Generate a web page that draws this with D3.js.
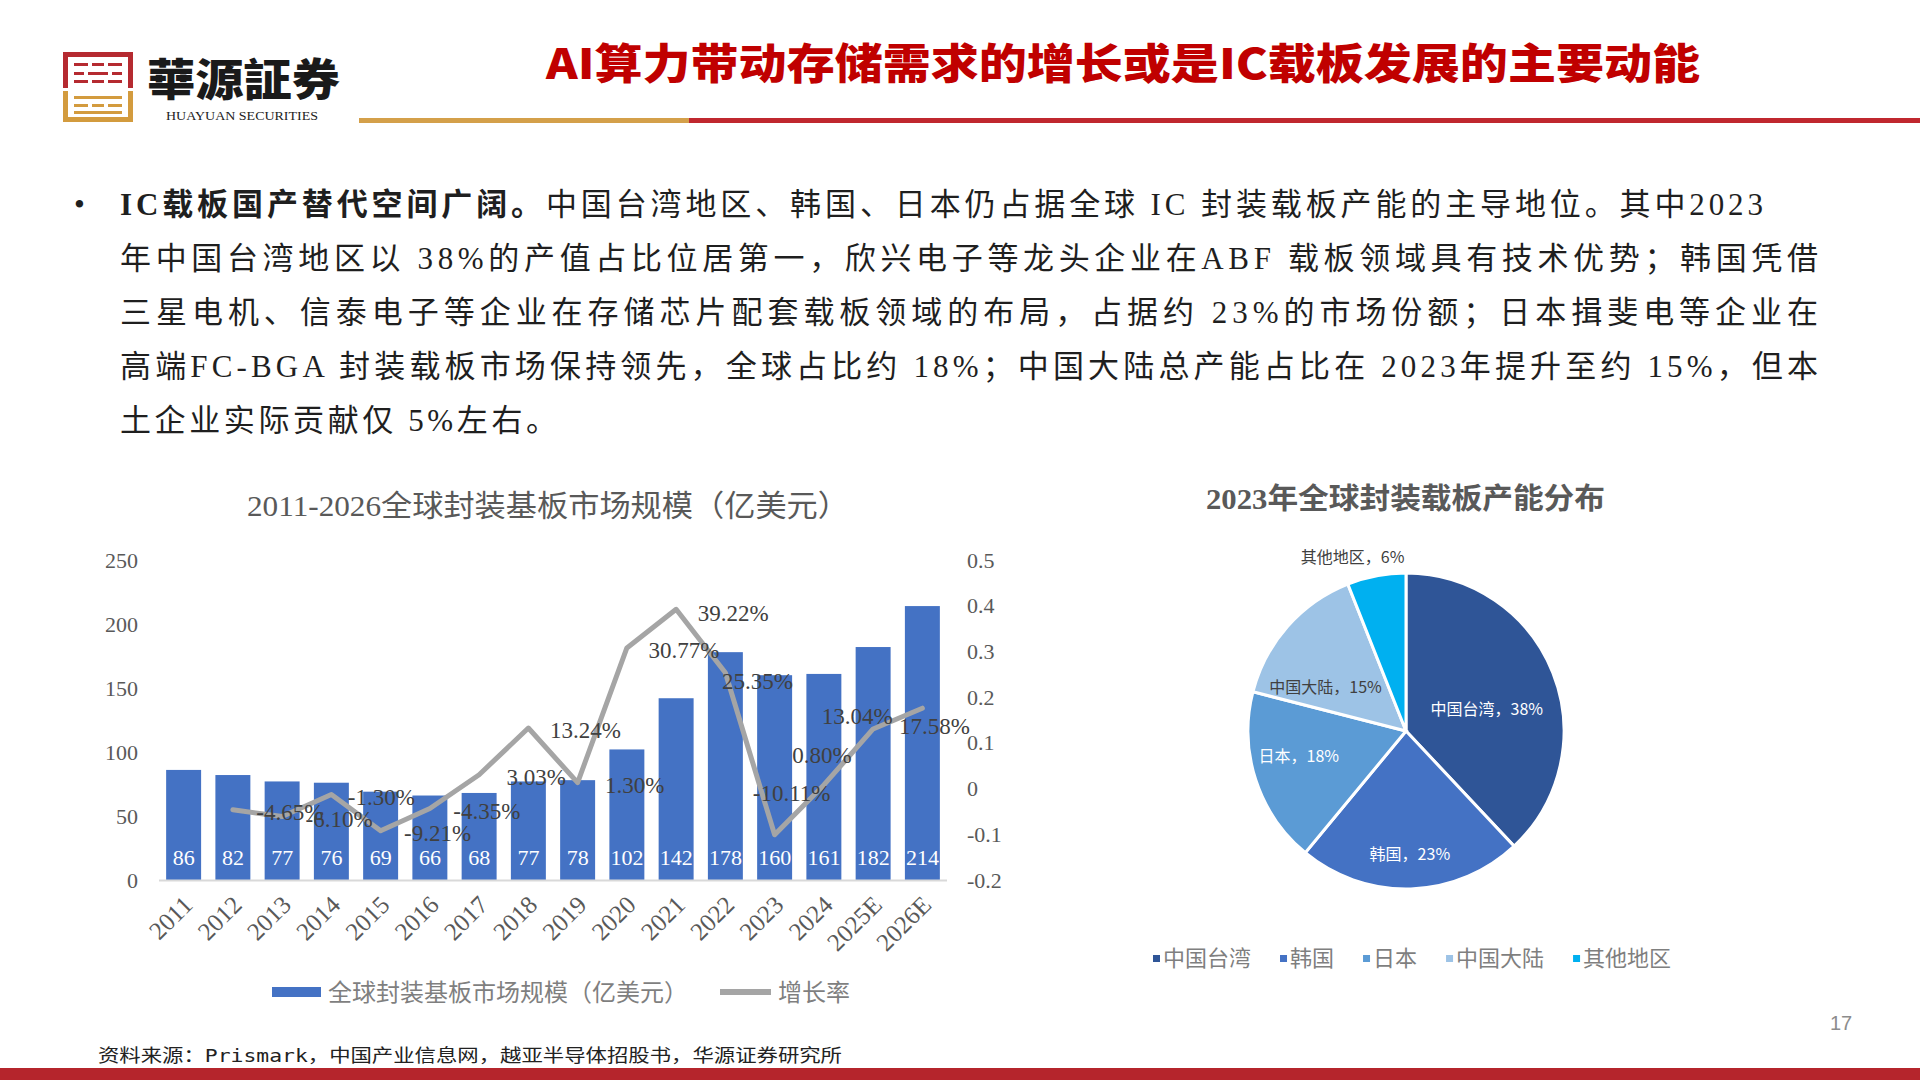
<!DOCTYPE html>
<html>
<head>
<meta charset="utf-8">
<script src="https://cdn.jsdelivr.net/npm/d3@7/dist/d3.min.js"></script>
<style>
  body { margin: 0; background: #fff; }
  svg { display: block; }
</style>
</head>
<body>
<svg width="1920" height="1080"></svg>
<script>
// ---- data ----
var years = ["2011","2012","2013","2014","2015","2016","2017","2018","2019","2020","2021","2022","2023","2024","2025E","2026E"];
var marketSize = [86, 82, 77, 76, 69, 66, 68, 77, 78, 102, 142, 178, 160, 161, 182, 214];
var growthYears = ["2012","2013","2014","2015","2016","2017","2018","2019","2020","2021","2022","2023","2024","2025E","2026E"];
var growthRate = [-0.0465, -0.0610, -0.0130, -0.0921, -0.0435, 0.0303, 0.1324, 0.0130, 0.3077, 0.3922, 0.2535, -0.1011, 0.0080, 0.1304, 0.1758];
var leftTicks = [0, 50, 100, 150, 200, 250];
var rightTicks = [-0.2, -0.1, 0, 0.1, 0.2, 0.3, 0.4, 0.5];

var regions = ["中国台湾", "韩国", "日本", "中国大陆", "其他地区"];
var shares = [38, 23, 18, 15, 6];

// label nudges for the growth labels (px), and pie label placement
var growthLabelShift = [[57,2],[57,2],[50,2],[57,2],[57,2],[57,2],[57,2],[57,2],[57,2],[57,4],[32,8],[17,-42],[-2,-30],[-16,-13],[12,18]];
var pieLabelRadius = [0.55, 0.78, 0.70, 0.62, 1.16];
var pieLabelShift = [[0,10],[0,0],[-2,-9],[-7,21],[-19,6]];
var pieColors = ["#2F5597", "#4472C4", "#5B9BD5", "#9DC3E6", "#00B0F0"];
var pieLabelColors = ["#fff", "#fff", "#fff", "#404040", "#404040"];

var serif = "'Liberation Serif', 'Noto Sans CJK SC', serif";
var cjk = "'Noto Sans CJK SC', sans-serif";
var pct = function(v){ return (v * 100).toFixed(2) + "%"; };

var svg = d3.select("svg");

// ---- header ----
var logo = svg.append("g");
var red = "#B52A30", gold = "#D39B3E";
logo.append("rect").attr("x", 63).attr("y", 52).attr("width", 70).attr("height", 5).attr("fill", red);
logo.append("rect").attr("x", 63).attr("y", 52).attr("width", 5).attr("height", 36).attr("fill", red);
logo.append("rect").attr("x", 128).attr("y", 52).attr("width", 5).attr("height", 36).attr("fill", red);
[[74,63,14],[92,63,12],[108,63,14],[74,72,10],[88,72,20],[112,72,10],[74,80,14],[92,80,12],[108,80,14]].forEach(function(s){
    logo.append("rect").attr("x", s[0]).attr("y", s[1]).attr("width", s[2]).attr("height", 3).attr("fill", red);
});
logo.append("rect").attr("x", 63).attr("y", 91).attr("width", 5).attr("height", 31).attr("fill", gold);
logo.append("rect").attr("x", 128).attr("y", 91).attr("width", 5).attr("height", 31).attr("fill", gold);
logo.append("rect").attr("x", 63).attr("y", 117).attr("width", 70).attr("height", 5).attr("fill", gold);
[[74,96,48],[74,104,14],[92,104,12],[108,104,14],[74,111,48]].forEach(function(s){
    logo.append("rect").attr("x", s[0]).attr("y", s[1]).attr("width", s[2]).attr("height", 3).attr("fill", gold);
});

svg.append("text")
    .attr("x", 147).attr("y", 96)
    .attr("textLength", 193).attr("lengthAdjust", "spacingAndGlyphs")
    .style("font-family", "'Noto Sans CJK TC', sans-serif")
    .style("font-size", "44px").style("font-weight", 900)
    .attr("fill", "#1a1a1a")
    .text("華源証券");
svg.append("text")
    .attr("x", 166).attr("y", 120)
    .attr("textLength", 152).attr("lengthAdjust", "spacingAndGlyphs")
    .style("font-family", serif).style("font-size", "12px")
    .attr("fill", "#222")
    .text("HUAYUAN SECURITIES");

svg.append("text")
    .attr("x", 546).attr("y", 79)
    .attr("textLength", 1154).attr("lengthAdjust", "spacingAndGlyphs")
    .style("font-family", cjk).style("font-size", "42px").style("font-weight", 900)
    .attr("fill", "#C00000")
    .text("AI算力带动存储需求的增长或是IC载板发展的主要动能");

svg.append("rect").attr("x", 359).attr("y", 118).attr("width", 330).attr("height", 5).attr("fill", "#D4A04A");
svg.append("rect").attr("x", 689).attr("y", 118).attr("width", 1231).attr("height", 5).attr("fill", "#C0282F");

// ---- body text ----
var body = svg.append("g")
    .style("font-family", serif).style("font-size", "31px")
    .attr("fill", "#1f1f1f");

body.append("text").attr("x", 74).attr("y", 215).text("•");

var l1 = body.append("text").attr("x", 120).attr("y", 215)
    .attr("textLength", 1643).attr("lengthAdjust", "spacing");
l1.append("tspan").style("font-weight", "bold").text("IC载板国产替代空间广阔。");
l1.append("tspan").text("中国台湾地区、韩国、日本仍占据全球 IC 封装载板产能的主导地位。其中2023");

var otherLines = [
    "年中国台湾地区以 38%的产值占比位居第一，欣兴电子等龙头企业在ABF 载板领域具有技术优势；韩国凭借",
    "三星电机、信泰电子等企业在存储芯片配套载板领域的布局，占据约 23%的市场份额；日本揖斐电等企业在",
    "高端FC-BGA 封装载板市场保持领先，全球占比约 18%；中国大陆总产能占比在 2023年提升至约 15%，但本"
];
otherLines.forEach(function(t, i) {
    body.append("text").attr("x", 120).attr("y", 269 + i * 54)
        .attr("textLength", 1698).attr("lengthAdjust", "spacing")
        .text(t);
});
body.append("text").attr("x", 120).attr("y", 431)
    .attr("textLength", 437).attr("lengthAdjust", "spacing")
    .text("土企业实际贡献仅 5%左右。");

// ---- bar + line chart ----
var x = d3.scaleBand().domain(years).range([159, 947]).paddingInner(0.29).paddingOuter(0.145);
var yL = d3.scaleLinear().domain([0, 250]).range([880, 560]);
var yR = d3.scaleLinear().domain([-0.2, 0.5]).range([880, 560]);

svg.append("text")
    .attr("x", 247).attr("y", 516)
    .attr("textLength", 602).attr("lengthAdjust", "spacingAndGlyphs")
    .style("font-family", serif).style("font-size", "30px")
    .attr("fill", "#595959")
    .text("2011-2026全球封装基板市场规模（亿美元）");

var leftAxis = svg.append("g")
    .attr("transform", "translate(145,0)")
    .call(d3.axisLeft(yL).tickValues(leftTicks).tickSize(0).tickPadding(7));
var rightAxis = svg.append("g")
    .attr("transform", "translate(960,0)")
    .call(d3.axisRight(yR).tickValues(rightTicks).tickSize(0).tickPadding(7)
        .tickFormat(function(d){ return String(Math.round(d * 10) / 10); }));
[leftAxis, rightAxis].forEach(function(a) {
    a.select(".domain").remove();
    a.selectAll("text")
        .style("font-family", serif).style("font-size", "22px")
        .attr("fill", "#595959");
});

svg.append("g")
    .selectAll("rect")
    .data(marketSize)
    .enter()
    .append("rect")
    .attr("x", function(d, i){ return x(years[i]); })
    .attr("y", function(d){ return yL(d); })
    .attr("width", x.bandwidth())
    .attr("height", function(d){ return yL(0) - yL(d); })
    .attr("fill", "#4472C4");

svg.append("line")
    .attr("x1", 159).attr("x2", 947).attr("y1", 880.5).attr("y2", 880.5)
    .attr("stroke", "#d9d9d9").attr("stroke-width", 2);

svg.append("g")
    .selectAll("text")
    .data(marketSize)
    .enter()
    .append("text")
    .attr("x", function(d, i){ return x(years[i]) + x.bandwidth() / 2; })
    .attr("y", 865)
    .attr("text-anchor", "middle")
    .style("font-family", serif).style("font-size", "22px")
    .attr("fill", "#fff")
    .text(function(d){ return d; });

svg.append("g")
    .selectAll("text")
    .data(years)
    .enter()
    .append("text")
    .attr("transform", function(d){ return "translate(" + (x(d) + x.bandwidth() / 2 - 2) + ",894) rotate(-45)"; })
    .attr("text-anchor", "end")
    .attr("dy", "0.7em")
    .style("font-family", serif).style("font-size", "25px")
    .attr("fill", "#595959")
    .text(function(d){ return d; });

var line = d3.line()
    .x(function(d, i){ return x(growthYears[i]) + x.bandwidth() / 2; })
    .y(function(d){ return yR(d); });

svg.append("path")
    .datum(growthRate)
    .attr("d", line)
    .attr("fill", "none")
    .attr("stroke", "#A5A5A5")
    .attr("stroke-width", 5)
    .attr("stroke-linejoin", "round")
    .attr("stroke-linecap", "round");

svg.append("g")
    .selectAll("text")
    .data(growthRate)
    .enter()
    .append("text")
    .attr("x", function(d, i){ return x(growthYears[i]) + x.bandwidth() / 2 + growthLabelShift[i][0]; })
    .attr("y", function(d, i){ return yR(d) + growthLabelShift[i][1]; })
    .attr("dy", "0.35em")
    .attr("text-anchor", "middle")
    .style("font-family", serif).style("font-size", "23px")
    .attr("fill", "#404040")
    .text(function(d){ return pct(d); });

// legend
svg.append("rect").attr("x", 272).attr("y", 987).attr("width", 49).attr("height", 10).attr("fill", "#4472C4");
svg.append("text").attr("x", 328).attr("y", 1001)
    .style("font-family", serif).style("font-size", "24px").attr("fill", "#7f7f7f")
    .text("全球封装基板市场规模（亿美元）");
svg.append("line").attr("x1", 720).attr("x2", 771).attr("y1", 992).attr("y2", 992)
    .attr("stroke", "#A5A5A5").attr("stroke-width", 6);
svg.append("text").attr("x", 778).attr("y", 1001)
    .style("font-family", serif).style("font-size", "24px").attr("fill", "#7f7f7f")
    .text("增长率");

// ---- pie chart ----
svg.append("text")
    .attr("x", 1206).attr("y", 509)
    .attr("textLength", 399).attr("lengthAdjust", "spacingAndGlyphs")
    .style("font-family", serif).style("font-size", "29px").style("font-weight", "bold")
    .attr("fill", "#595959")
    .text("2023年全球封装载板产能分布");

var R = 158;
var pie = d3.pie().sort(null).value(function(d){ return d; });
var arcs = pie(shares);
var arc = d3.arc().innerRadius(0).outerRadius(R);
var pg = svg.append("g").attr("transform", "translate(1406,731)");

pg.selectAll("path")
    .data(arcs)
    .enter()
    .append("path")
    .attr("d", arc)
    .attr("fill", function(d, i){ return pieColors[i]; })
    .attr("stroke", "#fff")
    .attr("stroke-width", 3);

pg.selectAll("text")
    .data(arcs)
    .enter()
    .append("text")
    .attr("transform", function(d, i) {
        var r = R * pieLabelRadius[i];
        var c = d3.arc().innerRadius(r).outerRadius(r).centroid(d);
        return "translate(" + (c[0] + pieLabelShift[i][0]) + "," + (c[1] + pieLabelShift[i][1]) + ")";
    })
    .attr("text-anchor", "middle")
    .attr("dy", "0.35em")
    .style("font-family", cjk).style("font-size", "16px")
    .attr("fill", function(d, i){ return pieLabelColors[i]; })
    .text(function(d, i){ return regions[i] + "，" + shares[i] + "%"; });

// pie legend
var lx = 1153;
regions.forEach(function(r, i) {
    svg.append("rect").attr("x", lx).attr("y", 955).attr("width", 7).attr("height", 7).attr("fill", pieColors[i]);
    var t = svg.append("text").attr("x", lx + 10).attr("y", 966)
        .style("font-family", serif).style("font-size", "22px").attr("fill", "#7f7f7f")
        .text(r);
    lx += 10 + t.node().getComputedTextLength() + 29;
});

// ---- footer ----
svg.append("text")
    .attr("x", 98).attr("y", 1062)
    .attr("textLength", 744).attr("lengthAdjust", "spacingAndGlyphs")
    .style("font-family", "'DejaVu Sans Mono', 'Noto Sans CJK SC', monospace").style("font-size", "18px")
    .attr("fill", "#222")
    .text("资料来源：Prismark，中国产业信息网，越亚半导体招股书，华源证券研究所");
svg.append("text")
    .attr("x", 1830).attr("y", 1030)
    .style("font-family", "'Liberation Sans', sans-serif").style("font-size", "20px")
    .attr("fill", "#8c8c8c")
    .text("17");
svg.append("rect").attr("x", 0).attr("y", 1068).attr("width", 1920).attr("height", 12).attr("fill", "#B5252C");
</script>
</body>
</html>
